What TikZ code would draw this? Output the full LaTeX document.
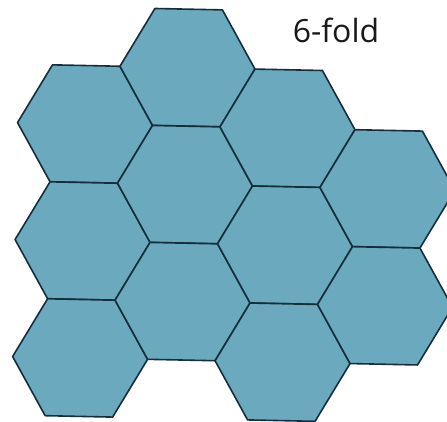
\documentclass[tikz,border=0pt]{standalone}
\usepackage{fontspec}
\setsansfont{Open Sans}
\usetikzlibrary{shapes.geometric}

\definecolor{cellfill}{RGB}{106,169,190}
\definecolor{celledge}{RGB}{22,46,60}

\begin{document}
\begin{tikzpicture}[
  x=1pt,y=1pt,
  hexcell/.style={regular polygon,regular polygon sides=6,minimum size=135pt,
    inner sep=0pt,outer sep=0pt,draw=celledge,fill=cellfill,line width=1.6pt,line join=round},
  label/.style={font=\sffamily\fontsize{32}{36}\selectfont,text=black!90,inner sep=0pt}
]
\useasboundingbox (0,0) rectangle (447,421);

% honeycomb, columns c and rows r
\begin{scope}[shift={(85,297)},rotate=-1.2,transform shape]
  \foreach \c/\r in {0/0,0/1,0/2,1/0,1/1,1/2,2/0,2/1,2/2,3/1,3/2}
    \node[hexcell] (h\c\r) at ({101.25*\c},{-117*\r+58.5*mod(\c,2)}) {};
\end{scope}

\node[label] (title) at (336,390.5) {6-fold};
\end{tikzpicture}
\end{document}
